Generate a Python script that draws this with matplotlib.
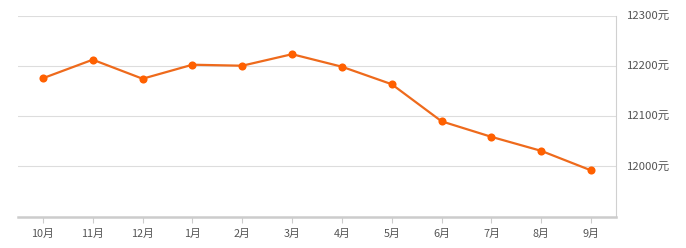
import matplotlib
matplotlib.use("Agg")
import matplotlib.pyplot as plt

plt.rcParams['font.family'] = ['Noto Sans CJK SC', 'DejaVu Sans']

months = ["10月", "11月", "12月", "1月", "2月", "3月", "4月", "5月", "6月", "7月", "8月", "9月"]
prices = [12176, 12213, 12175, 12203, 12201, 12224, 12199, 12164, 12090, 12059, 12031, 11992]
yticks = [12000, 12100, 12200, 12300]
ytick_labels = ["12000元", "12100元", "12200元", "12300元"]

fig = plt.figure(figsize=(6.86, 2.48), dpi=100)
ax = fig.add_axes([0.0262, 0.127, 0.898 - 0.0262, 0.935 - 0.127])

x = list(range(len(months)))
ax.plot(x, prices, color='#ee6a1c', linewidth=1.6, zorder=3)
ax.scatter(x, prices, s=34, color='#ff6000', zorder=4, linewidths=0)

ax.set_xlim(-0.5, len(months) - 0.5)
ax.set_ylim(11900, 12300)
ax.set_xticks(x)
ax.set_xticklabels(months)
ax.set_yticks(yticks)
ax.set_yticklabels(ytick_labels)
ax.yaxis.tick_right()

ax.grid(axis='y', color='#dddddd', linewidth=0.8)
ax.set_axisbelow(True)

for s in ['top', 'left']:
    ax.spines[s].set_visible(False)
ax.spines['right'].set_color('#d0d0d0')
ax.spines['right'].set_linewidth(0.8)
ax.spines['bottom'].set_color('#cccccc')
ax.spines['bottom'].set_linewidth(1.8)

ax.tick_params(axis='x', length=4, width=0.8, color='#cccccc', labelsize=7.8, labelcolor='#555555', pad=5)
ax.tick_params(axis='y', length=0, labelsize=8.2, labelcolor='#555555', pad=8)

fig.savefig('out.png', dpi=100)
